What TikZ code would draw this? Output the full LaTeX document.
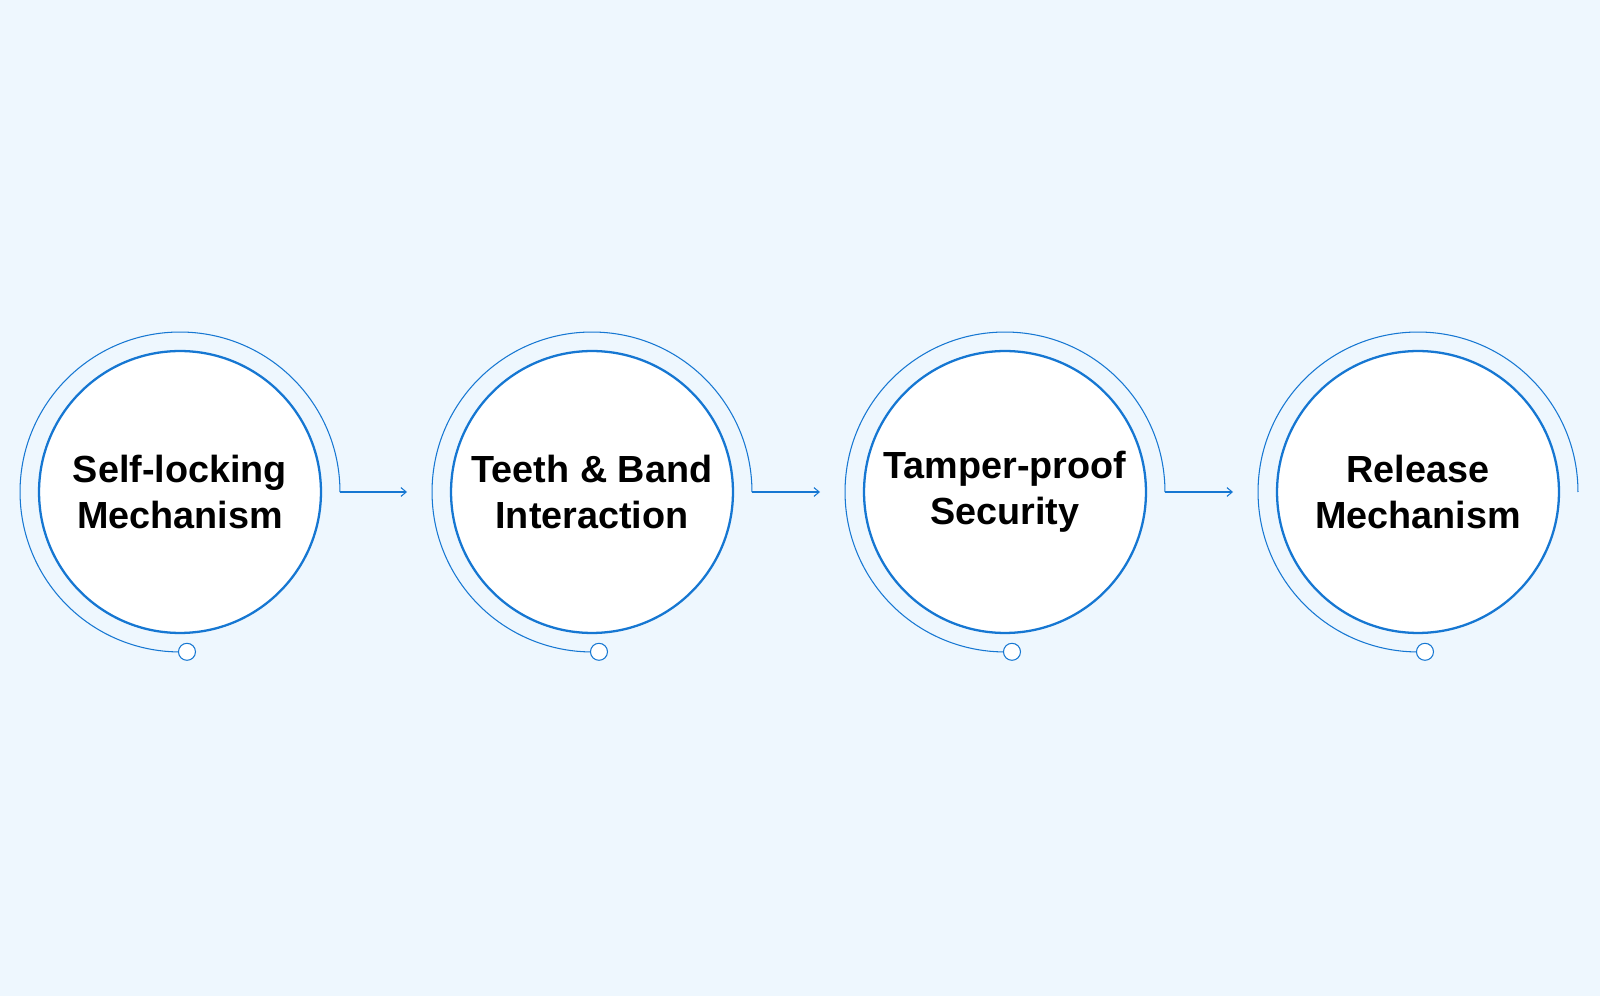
\documentclass[tikz,border=0pt]{standalone}
\usepackage{fontspec}
\setmainfont{Liberation Sans}
\usetikzlibrary{arrows.meta,positioning}
\definecolor{bgblue}{HTML}{EEF7FE}
\definecolor{ringblue}{HTML}{1677D2}
\begin{document}
\begin{tikzpicture}[x=0.02cm,y=-0.02cm,>={Straight Barb[length=3pt,width=5pt]}]
    \tikzstyle{stage} = [draw=ringblue, fill=white, shape=circle, line width=1.3pt, minimum size=5.64cm, inner sep=0pt, align=center, font=\bfseries\fontsize{21.5}{26}\selectfont]
    \tikzstyle{ring} = [draw=ringblue, line width=0.6pt]
    \tikzstyle{knob} = [draw=ringblue, fill=white, line width=0.6pt]
    \tikzstyle{link} = [draw=ringblue, line width=0.6pt, ->]
    %Background
    \fill[bgblue] (0,0) rectangle (1600,996);
    \useasboundingbox (0,0) rectangle (1600,996);
    %Creating Stages
    \node [stage] (c1) at (180,492) {Self-locking\\Mechanism};
    \node [stage] (c2) at (592,492) {Teeth \& Band\\Interaction};
    \node [stage] (c3) at (1005,492) {Tamper-proof\\Security};
    \node [stage] (c4) at (1418,492) {Release\\Mechanism};
    %Outer rings with knobs
    \foreach \n in {1,2,3,4} {
        \draw[ring] (c\n.center) ++(0:3.2cm) coordinate (r\n)
            arc[start angle=0, end angle=272.5, radius=3.2cm] coordinate (k\n);
        \draw[knob] (k\n) circle (0.17cm);
    }
    %Connecting Stages
    \coordinate (e2) at (407,492);
    \coordinate (e3) at (820,492);
    \coordinate (e4) at (1233,492);
    \draw[link] (r1) -- (e2);
    \draw[link] (r2) -- (e3);
    \draw[link] (r3) -- (e4);
\end{tikzpicture}
\end{document}
